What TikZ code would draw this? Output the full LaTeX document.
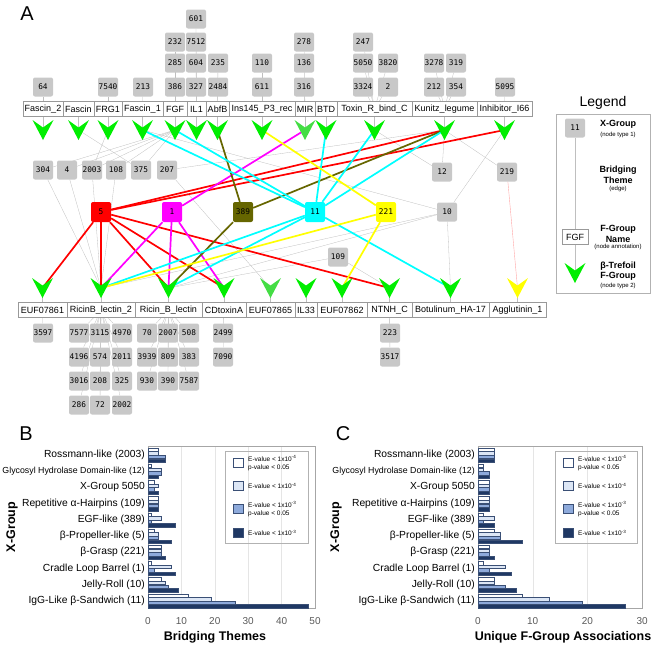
\documentclass[tikz,border=0pt]{standalone}
\usepackage{fontspec}
\setmainfont{Liberation Sans}
\newfontfamily\monofam{DejaVu Sans Mono}
\usetikzlibrary{backgrounds}

\definecolor{xgray}{HTML}{C8C8C8}
\definecolor{tgreen}{HTML}{00EE00}
\definecolor{lgreen}{HTML}{44DD44}
\definecolor{redx}{HTML}{FF0000}
\definecolor{magx}{HTML}{FF00FF}
\definecolor{olivex}{HTML}{666600}
\definecolor{cyanx}{HTML}{00FFFF}
\definecolor{yellowx}{HTML}{FFFF00}
\definecolor{barlight}{HTML}{DCE6F5}
\definecolor{barmid}{HTML}{8EAADB}
\definecolor{barnavy}{HTML}{1F3864}
\definecolor{barline}{HTML}{3A4F75}

% beta-trefoil F-group marker (chevron), #1 = centre, #2 = colour
\newcommand{\trefoil}[2]{\fill[#2,shift={(#1)}] (0,10) -- (-10.5,-10) -- (0,-2.5) -- (10.5,-10) -- cycle;}

\tikzset{
  xg/.style={fill=xgray, rounded corners=2pt, minimum width=20pt, minimum height=19pt,
    inner sep=0pt, font=\monofam\fontsize{7.8}{8}\selectfont},
  hub/.style={xg, fill=#1, minimum height=20pt},
  fname/.style={draw=gray!80, fill=white, font=\fontsize{9}{10}\selectfont,
    inner sep=0pt, minimum height=15pt, minimum width=#1},
  faint/.style={draw=gray!50, line width=0.3pt},
  bridge/.style={draw=#1, line width=1.7pt},
  panel/.style={font=\fontsize{20}{22}\selectfont},
  catlbl/.style={anchor=east, inner sep=1pt},
  ticklbl/.style={text=gray!70!black, font=\fontsize{10}{12}\selectfont},
  axtitle/.style={font=\bfseries\fontsize{12.5}{14}\selectfont},
  keytxt/.style={anchor=west, align=left, inner sep=0pt, font=\fontsize{6.5}{8}\selectfont},
  legsmall/.style={font=\fontsize{6}{7}\selectfont},
  legbold/.style={font=\bfseries\fontsize{9}{10.5}\selectfont, align=center}
}

\begin{document}
\begin{tikzpicture}[x=1pt,y=-1pt]
\useasboundingbox (0,0) rectangle (653,645);

\node[panel] (pA) at (27,14) {A};
\node[panel] (pB) at (26,434) {B};
\node[panel] (pC) at (343,434) {C};

% ---- network (panel A) ----
% top row of F-groups
\foreach \nm/\xx/\ww/\col/\txt in {Fascin2/43/40/tgreen/Fascin\_2, Fascin/78.5/31/tgreen/Fascin,
    FRG1/108/28/tgreen/FRG1, Fascin1/142.5/41/tgreen/Fascin\_1, FGF/175/24/tgreen/FGF,
    IL1/196.5/19/tgreen/IL1, AbfB/217.5/23/tgreen/AbfB, Ins/262/66/tgreen/Ins145\_P3\_rec,
    MIR/305/20/lgreen/MIR, BTD/326/22/tgreen/BTD, Toxin/374.5/75/tgreen/Toxin\_R\_bind\_C,
    Kunitz/444.5/65/tgreen/Kunitz\_legume, Inhib/504.5/55/tgreen/Inhibitor\_I66}{
  \node[fname=\ww pt] (l\nm) at (\xx,109) {\txt};
  \coordinate (t\nm) at (\xx,130);
  \trefoil{t\nm}{\col}
  \begin{pgfonlayer}{background}\draw[faint] (l\nm) -- (t\nm);\end{pgfonlayer}
}

% bottom row of F-groups
\foreach \nm/\xx/\ww/\col/\txt in {EUFa/42.5/49/tgreen/EUF07861, RicinBtwo/101/68/tgreen/RicinB\_lectin\_2,
    RicinB/168.5/67/tgreen/Ricin\_B\_lectin, CDtox/224/44/tgreen/CDtoxinA, EUFb/270.5/49/lgreen/EUF07865,
    IL33/306/22/tgreen/IL33, EUFc/342/50/tgreen/EUF07862, NTNH/389.5/45/tgreen/NTNH\_C,
    Botul/450.5/77/tgreen/Botulinum\_HA-17, Agglut/517.5/57/yellowx/Agglutinin\_1}{
  \node[fname=\ww pt] (l\nm) at (\xx,310) {\txt};
  \coordinate (b\nm) at (\xx,288);
  \trefoil{b\nm}{\col}
  \begin{pgfonlayer}{background}\draw[faint] (l\nm) -- (b\nm);\end{pgfonlayer}
}

% X-group stacks above the top row
\foreach \v/\xx/\yy/\tg in {64/43/87/Fascin2, 7540/108/87/FRG1, 213/143/87/Fascin1,
    386/175/87/FGF, 285/175/63/FGF, 232/175/42/FGF,
    327/196/87/IL1, 604/196/63/IL1, 7512/196/42/IL1, 601/196/19/IL1,
    2484/218/87/AbfB, 235/218/63/AbfB, 611/262/87/Ins, 110/262/63/Ins,
    316/304/87/MIR, 136/304/63/MIR, 278/304/42/MIR,
    3324/363/87/Toxin, 5050/363/63/Toxin, 247/363/42/Toxin, 2/388/87/Toxin, 3820/388/63/Toxin,
    212/434/87/Kunitz, 3278/434/63/Kunitz, 354/456/87/Kunitz, 319/456/63/Kunitz,
    5095/505/87/Inhib}{
  \node[xg] (x\v) at (\xx,\yy) {\v};
  \begin{pgfonlayer}{background}\draw[faint] (x\v) -- (l\tg);\end{pgfonlayer}
}

% X-group stacks below the bottom row
\foreach \v/\xx/\yy/\tg in {3597/43/333/EUFa,
    7577/79/333/RicinBtwo, 4196/79/357/RicinBtwo, 3016/79/381/RicinBtwo, 286/79/405/RicinBtwo,
    3115/100/333/RicinBtwo, 574/100/357/RicinBtwo, 208/100/381/RicinBtwo, 72/100/405/RicinBtwo,
    4970/122/333/RicinBtwo, 2011/122/357/RicinBtwo, 325/122/381/RicinBtwo, 2002/122/405/RicinBtwo,
    70/147/333/RicinB, 3939/147/357/RicinB, 930/147/381/RicinB,
    2007/168/333/RicinB, 809/168/357/RicinB, 390/168/381/RicinB,
    508/189/333/RicinB, 383/189/357/RicinB, 7587/189/381/RicinB,
    2499/223/333/CDtox, 7090/223/357/CDtox, 223/390/333/NTNH, 3517/390/357/NTNH}{
  \node[xg] (x\v) at (\xx,\yy) {\v};
  \begin{pgfonlayer}{background}\draw[faint] (l\tg) -- (x\v);\end{pgfonlayer}
}

% middle X-groups
\foreach \v/\xx/\yy in {304/43/170, 4/67/170, 2003/92/170, 108/116/170, 375/141/170, 207/167/170,
    12/442/172, 219/507/172, 10/447/212, 109/338/257}
  \node[xg] (x\v) at (\xx,\yy) {\v};

% bridging X-groups
\node[hub=redx]    (h5)   at (101,212) {5};
\node[hub=magx]    (h1)   at (172,212) {1};
\node[hub=olivex]  (h389) at (243,212) {389};
\node[hub=cyanx]   (h11)  at (315,212) {11};
\node[hub=yellowx] (h221) at (386,212) {221};

\begin{pgfonlayer}{background}
  % weak links
  \foreach \a/\b in {tFGF/x304, tFGF/x4, tFGF/x2003, tFGF/x108, tFGF/x375, tFascin/x375,
      tFRG1/x2003, x207/tKunitz, x207/bEUFb, x304/bRicinBtwo, x4/bRicinBtwo, x108/bRicinBtwo,
      x2003/bRicinBtwo, tToxin/x12, tKunitz/x12, tKunitz/x219, x10/tInhib, x10/bBotul,
      x10/bRicinBtwo, x10/bRicinB, tFascin1/x10, x109/bNTNH, x109/bRicinB}
    \draw[faint] (\a) -- (\b);
  \draw[redx!35, line width=0.4pt] (x219) -- (bAgglut);
  % bridging themes
  \foreach \b in {bEUFa, bRicinBtwo, bRicinB, bCDtox, bNTNH, tKunitz, tInhib}
    \draw[bridge=redx] (h5) -- (\b);
  \foreach \b in {tMIR, bRicinBtwo, bRicinB, bCDtox}
    \draw[bridge=magx] (h1) -- (\b);
  \foreach \b in {tAbfB, tKunitz, bRicinB}
    \draw[bridge=olivex] (h389) -- (\b);
  \foreach \b in {tFascin1, tFGF, tBTD, tToxin, tKunitz, bRicinBtwo, bRicinB, bBotul}
    \draw[bridge=cyanx] (h11) -- (\b);
  \foreach \b in {tIns, bRicinBtwo, bEUFc}
    \draw[bridge=yellowx] (h221) -- (\b);
\end{pgfonlayer}

% legend of the network
\node[font=\fontsize{14}{16}\selectfont] (legtitle) at (603,103) {Legend};
\draw[gray!60, line width=0.8pt] (556,114) rectangle (650,293);
\node[xg] (lg11) at (575,128) {11};
\node[fname=26pt] (lgFGF) at (575,237) {FGF};
\coordinate (lgT) at (575,273);
\trefoil{lgT}{tgreen}
\begin{pgfonlayer}{background}\draw[faint] (lg11) -- (lgT);\end{pgfonlayer}
\node[legbold] (lgxa) at (618,124) {X-Group};
\node[legsmall] (lgxb) at (618,135) {(node type 1)};
\node[legbold] (lgba) at (618,175) {Bridging\\Theme};
\node[legsmall] (lgbb) at (618,189) {(edge)};
\node[legbold] (lgfa) at (618,234) {F-Group\\Name};
\node[legsmall] (lgfb) at (618,247) {(node annotation)};
\node[legbold] (lgta) at (618,271) {β-Trefoil\\F-Group};
\node[legsmall] (lgtb) at (618,286) {(node type 2)};

% ---- bar chart B ----
\foreach \t in {10,20,30,40}
  \draw[gray!20] ({148+3.34*\t},446) -- ({148+3.34*\t},608);
\draw[gray!70] (148,446) rectangle (315,608);
\foreach \t in {0,10,...,50}
  \node[ticklbl] at ({148+3.34*\t},621) {\t};
\foreach \lab/\fs/\a/\b/\cc/\d [count=\i from 0] in {Rossmann-like (2003)/10.3/3/3/5/5,
    Glycosyl Hydrolase Domain-like (12)/8.8/1/4/4/3, X-Group 5050/10.3/2/3/2/3,
    Repetitive α-Hairpins (109)/10.3/3/3/3/3, EGF-like (389)/10.3/1/4/1/8,
    β-Propeller-like (5)/10.3/2/3/3/7, β-Grasp (221)/10.3/4/4/4/5,
    Cradle Loop Barrel (1)/10.3/1/7/2/8, Jelly-Roll (10)/10.3/4/5/6/9,
    IgG-Like β-Sandwich (11)/10.3/12/19/26/48}{
  \pgfmathsetmacro{\yc}{455+16.2*\i}
  \node[catlbl, font=\fontsize{\fs}{12}\selectfont] (catB\i) at (146,\yc) {\lab};
  \foreach \val/\col/\off in {\a/white/-5.4, \b/barlight/-1.8, \cc/barmid/1.8, \d/barnavy/5.4}
    \draw[barline, line width=0.4pt, fill=\col] (148,\yc+\off-1.7) rectangle ({148+3.34*\val},\yc+\off+1.7);
}
\node[axtitle] (axB) at (215,637) {Bridging Themes};
\node[axtitle, rotate=90] (ayB) at (12,527) {X-Group};
\draw[gray!60] (225,451) rectangle (308,543);
\foreach \yy/\col/\txt in {463/white/{E-value < 1x10\textsuperscript{-4}\\p-value < 0.05},
    486/barlight/{E-value < 1x10\textsuperscript{-4}},
    509/barmid/{E-value < 1x10\textsuperscript{-3}\\p-value < 0.05},
    533/barnavy/{E-value < 1x10\textsuperscript{-3}}}{
  \draw[barline, fill=\col] (233,\yy-4.5) rectangle (243,\yy+4.5);
  \node[keytxt] at (248,\yy) {\txt};
}

% ---- bar chart C ----
\foreach \t in {10,20}
  \draw[gray!20] ({478+5.47*\t},446) -- ({478+5.47*\t},608);
\draw[gray!70] (478,446) rectangle (642,608);
\foreach \t in {0,10,20,30}
  \node[ticklbl] at ({478+5.47*\t},621) {\t};
\foreach \lab/\fs/\a/\b/\cc/\d [count=\i from 0] in {Rossmann-like (2003)/10.3/3/3/3/3,
    Glycosyl Hydrolase Domain-like (12)/8.8/1/1/2/2, X-Group 5050/10.3/2/2/2/2,
    Repetitive α-Hairpins (109)/10.3/2/2/2/2, EGF-like (389)/10.3/1/3/1/3,
    β-Propeller-like (5)/10.3/3/4/4/8, β-Grasp (221)/10.3/2/2/2/3,
    Cradle Loop Barrel (1)/10.3/1/5/2/6, Jelly-Roll (10)/10.3/3/3/5/7,
    IgG-Like β-Sandwich (11)/10.3/8/13/19/27}{
  \pgfmathsetmacro{\yc}{455+16.2*\i}
  \node[catlbl, font=\fontsize{\fs}{12}\selectfont] (catC\i) at (476,\yc) {\lab};
  \foreach \val/\col/\off in {\a/white/-5.4, \b/barlight/-1.8, \cc/barmid/1.8, \d/barnavy/5.4}
    \draw[barline, line width=0.4pt, fill=\col] (478,\yc+\off-1.7) rectangle ({478+5.47*\val},\yc+\off+1.7);
}
\node[axtitle] (axC) at (563,637) {Unique F-Group Associations};
\node[axtitle, rotate=90] (ayC) at (336,527) {X-Group};
\draw[gray!60] (555,451) rectangle (637,543);
\foreach \yy/\col/\txt in {463/white/{E-value < 1x10\textsuperscript{-4}\\p-value < 0.05},
    486/barlight/{E-value < 1x10\textsuperscript{-4}},
    509/barmid/{E-value < 1x10\textsuperscript{-3}\\p-value < 0.05},
    533/barnavy/{E-value < 1x10\textsuperscript{-3}}}{
  \draw[barline, fill=\col] (563,\yy-4.5) rectangle (573,\yy+4.5);
  \node[keytxt] at (578,\yy) {\txt};
}
\end{tikzpicture}
\end{document}
